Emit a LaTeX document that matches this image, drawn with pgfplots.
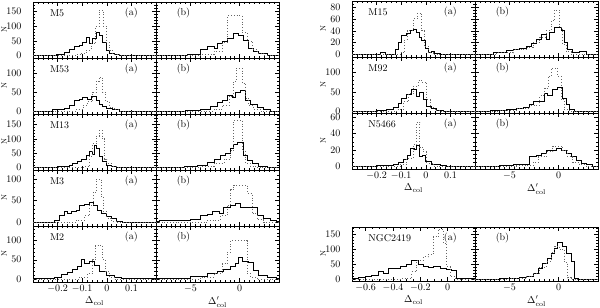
\documentclass[border=0pt]{standalone}
\usepackage{pgfplots}
\pgfplotsset{compat=1.18}
\pgfplotsset{
  panel/.style={scale only axis, width=123pt, height=56pt, anchor=south west,
    tick align=inside, axis line style={line width=0.6pt},
    every tick/.style={black, line width=0.5pt},
    major tick length=4pt, minor tick length=2pt,
    tick label style={font=\fontsize{10}{11}\selectfont},
    yticklabel style={xshift=-8pt}},
  pa/.style={xmin=-0.3, xmax=0.2, xtick={-0.2,-0.1,0,0.1}, minor xtick={-0.3,-0.28,...,0.2}},
  pb/.style={xmin=-8.5, xmax=4, xtick={-5,0}, minor xtick={-8.5,-8,...,4}, yticklabels={}},
  nx/.style={xticklabels={}},
  y50/.style={ytick={0,50,100,150}, minor ytick={0,10,...,190}},
  y20/.style={ytick={0,20,40,60,80}, minor ytick={0,5,...,90}},
  sol/.style={const plot, black, line width=0.9pt},
  dot/.style={const plot, black!60, dotted, line width=0.8pt},
  ylab/.style={ylabel={N}, ylabel style={at={(axis description cs:-0.235,0.5)}, anchor=center, font=\fontsize{7.5}{8}\selectfont}},
  xla/.style={xlabel={$\Delta_{\rm col}$}, xlabel style={yshift=3pt}},
  xlb/.style={xlabel={$\Delta'_{\rm col}$}, xlabel style={yshift=3pt}},
}
\begin{document}
\begin{tikzpicture}
\useasboundingbox (0,0) rectangle (600pt,308pt);
% ================= LEFT BLOCK =================
% M5
\begin{axis}[panel, pa, nx, y50, ylab, at={(33pt,250pt)}, ymin=-8, ymax=182]
\addplot[sol] coordinates {(-0.3,0)(-0.205,5)(-0.172,12)(-0.151,20)(-0.131,30)(-0.111,35)(-0.097,45)(-0.081,62)(-0.070,42)(-0.057,58)(-0.043,78)(-0.030,70)(-0.016,45)(-0.003,18)(0.011,9)(0.031,3)(0.051,0)(0.2,0)};
\addplot[dot] coordinates {(-0.3,0)(-0.124,3)(-0.104,8)(-0.084,18)(-0.064,40)(-0.046,100)(-0.032,155)(-0.014,100)(-0.003,45)(0.011,18)(0.024,5)(0.051,0)(0.2,0)};
\node[anchor=west] at (rel axis cs:0.11,0.8) {M5};
\node[anchor=east] at (rel axis cs:0.88,0.8) {(a)};
\end{axis}
\begin{axis}[panel, pb, nx, y50, at={(156pt,250pt)}, ymin=-8, ymax=182]
\addplot[sol] coordinates {(-8.5,0)(-8.33,2)(-5.3,5)(-3.95,20)(-3.28,32)(-2.61,23)(-2.27,40)(-1.77,49)(-1.26,60)(-0.59,75)(-0.08,70)(0.42,53)(0.93,24)(1.43,15)(1.94,6)(2.78,2)(3.96,0)(4,0)};
\addplot[dot] coordinates {(-8.5,0)(-3.95,5)(-2.61,15)(-1.77,45)(-1.26,135)(0.25,78)(0.76,50)(1.26,20)(1.77,8)(2.44,0)(4,0)};
\node[anchor=west] at (rel axis cs:0.14,0.8) {(b)};
\end{axis}
% M53
\begin{axis}[panel, pa, nx, y50, ylab, at={(33pt,194pt)}, ymin=-8, ymax=142]
\addplot[sol] coordinates {(-0.3,0)(-0.219,3)(-0.172,8)(-0.151,15)(-0.131,27)(-0.111,32)(-0.097,36)(-0.077,30)(-0.064,38)(-0.043,27)(-0.030,18)(-0.016,13)(-0.003,7)(0.024,3)(0.051,0)(0.2,0)};
\addplot[dot] coordinates {(-0.3,0)(-0.124,5)(-0.097,15)(-0.077,25)(-0.057,50)(-0.043,80)(-0.032,90)(-0.016,50)(-0.005,25)(0.011,10)(0.031,3)(0.051,0)(0.2,0)};
\node[anchor=west] at (rel axis cs:0.11,0.8) {M53};
\node[anchor=east] at (rel axis cs:0.88,0.8) {(a)};
\end{axis}
\begin{axis}[panel, pb, nx, y50, at={(156pt,194pt)}, ymin=-8, ymax=142]
\addplot[sol] coordinates {(-8.5,0)(-5.5,1)(-3.95,3)(-2.94,11)(-2.27,22)(-1.77,27)(-1.26,42)(-0.76,36)(-0.42,49)(0.09,55)(0.59,27)(1.10,18)(1.77,9)(2.44,3)(3.12,0)(4,0)};
\addplot[dot] coordinates {(-8.5,0)(-2.61,5)(-1.77,15)(-1.09,40)(-0.59,80)(-0.32,115)(0.25,75)(0.59,35)(0.93,15)(1.43,5)(2.11,0)(4,0)};
\node[anchor=west] at (rel axis cs:0.14,0.8) {(b)};
\end{axis}
% M13
\begin{axis}[panel, pa, nx, y50, ylab, at={(33pt,138pt)}, ymin=-8, ymax=186]
\addplot[sol] coordinates {(-0.3,0)(-0.199,3)(-0.151,8)(-0.138,15)(-0.118,20)(-0.104,30)(-0.084,43)(-0.070,55)(-0.057,45)(-0.050,78)(-0.041,68)(-0.030,40)(-0.016,20)(-0.003,8)(0.018,3)(0.038,0)(0.2,0)};
\addplot[dot] coordinates {(-0.3,0)(-0.091,5)(-0.070,40)(-0.057,83)(-0.043,110)(-0.030,130)(-0.019,100)(-0.009,30)(0.000,15)(0.018,5)(0.038,0)(0.2,0)};
\node[anchor=west] at (rel axis cs:0.11,0.8) {M13};
\node[anchor=east] at (rel axis cs:0.88,0.8) {(a)};
\end{axis}
\begin{axis}[panel, pb, nx, y50, at={(156pt,138pt)}, ymin=-8, ymax=186]
\addplot[sol] coordinates {(-8.5,0)(-5.64,3)(-4.29,8)(-3.28,17)(-2.61,29)(-1.93,41)(-1.43,49)(-0.92,66)(-0.59,80)(-0.18,88)(0.36,43)(0.76,25)(1.26,14)(1.94,6)(2.78,0)(4,0)};
\addplot[dot] coordinates {(-8.5,0)(-3.95,5)(-2.61,15)(-1.60,30)(-0.92,60)(-0.59,165)(0.25,60)(0.59,15)(1.10,5)(1.77,0)(4,0)};
\node[anchor=west] at (rel axis cs:0.14,0.8) {(b)};
\end{axis}
% M3
\begin{axis}[panel, pa, nx, y50, ylab, at={(33pt,82pt)}, ymin=-8.5, ymax=121]
\addplot[sol] coordinates {(-0.3,0)(-0.212,5)(-0.192,17)(-0.172,25)(-0.158,21)(-0.145,26)(-0.124,28)(-0.111,38)(-0.091,42)(-0.070,46)(-0.054,38)(-0.036,28)(-0.023,21)(-0.003,13)(0.018,8)(0.038,2)(0.065,0)(0.2,0)};
\addplot[dot] coordinates {(-0.3,0)(-0.124,5)(-0.091,15)(-0.070,40)(-0.054,70)(-0.043,100)(-0.023,60)(-0.014,25)(0.000,10)(0.018,3)(0.038,0)(0.2,0)};
\node[anchor=west] at (rel axis cs:0.11,0.8) {M3};
\node[anchor=east] at (rel axis cs:0.88,0.8) {(a)};
\end{axis}
\begin{axis}[panel, pb, nx, y50, at={(156pt,82pt)}, ymin=-8.5, ymax=121]
\addplot[sol] coordinates {(-8.5,2)(-8.16,4)(-4.96,6)(-3.95,15)(-3.28,19)(-2.78,26)(-2.10,21)(-1.60,35)(-0.92,38)(-0.42,44)(0.09,35)(0.93,34)(1.77,17)(2.44,9)(3.12,5)(3.79,2)(4,2)};
\addplot[dot] coordinates {(-8.5,0)(-3.28,5)(-1.93,15)(-1.26,40)(-0.92,75)(-0.59,86)(0.76,67)(1.26,20)(1.77,6)(2.44,0)(4,0)};
\node[anchor=west] at (rel axis cs:0.14,0.8) {(b)};
\end{axis}
% M2
\begin{axis}[panel, pa, y50, ylab, xla, at={(33pt,26pt)}, ymin=-8, ymax=138]
\addplot[sol] coordinates {(-0.3,0)(-0.212,5)(-0.185,12)(-0.158,18)(-0.138,25)(-0.118,32)(-0.104,50)(-0.091,40)(-0.070,45)(-0.050,35)(-0.030,20)(-0.003,10)(0.031,5)(0.058,0)(0.2,0)};
\addplot[dot] coordinates {(-0.3,0)(-0.111,5)(-0.077,15)(-0.057,50)(-0.046,87)(-0.016,50)(-0.005,20)(0.011,5)(0.031,0)(0.2,0)};
\node[anchor=west] at (rel axis cs:0.11,0.8) {M2};
\node[anchor=east] at (rel axis cs:0.88,0.8) {(a)};
\end{axis}
\begin{axis}[panel, pb, y50, xlb, at={(156pt,26pt)}, ymin=-8, ymax=138]
\addplot[sol] coordinates {(-8.5,2)(-4.96,6)(-3.28,13)(-2.27,19)(-1.60,25)(-0.92,32)(-0.42,41)(-0.08,56)(0.25,45)(0.93,42)(1.43,21)(1.94,9)(2.78,3)(3.79,0)(4,0)};
\addplot[dot] coordinates {(-8.5,0)(-3.95,5)(-2.61,15)(-1.77,40)(-1.26,70)(-0.92,100)(0.76,15)(1.10,5)(1.77,0)(4,0)};
\node[anchor=west] at (rel axis cs:0.14,0.8) {(b)};
\end{axis}
% ================= RIGHT BLOCK =================
% M15
\begin{axis}[panel, pa, nx, y20, ylab, at={(352pt,251pt)}, ymin=-4, ymax=90]
\addplot[sol] coordinates {(-0.3,0)(-0.186,3)(-0.166,0)(-0.125,8)(-0.112,20)(-0.098,33)(-0.078,36)(-0.064,40)(-0.051,43)(-0.037,37)(-0.024,29)(-0.017,23)(-0.003,11)(0.010,3)(0.024,6)(0.037,2)(0.058,0)(0.2,0)};
\addplot[dot] coordinates {(-0.3,0)(-0.105,3)(-0.085,26)(-0.075,40)(-0.051,60)(-0.034,70)(-0.017,40)(-0.007,14)(0.010,3)(0.031,0)(0.2,0)};
\node[anchor=west] at (rel axis cs:0.105,0.8) {M15};
\node[anchor=east] at (rel axis cs:0.88,0.8) {(a)};
\end{axis}
\begin{axis}[panel, pb, nx, y20, at={(475pt,251pt)}, ymin=-4, ymax=90]
\addplot[sol] coordinates {(-8.5,0)(-6.65,3)(-5.30,7)(-4.63,9)(-3.95,11)(-3.28,14)(-2.78,19)(-2.27,26)(-1.77,34)(-1.26,26)(-0.92,37)(-0.42,46)(0.25,41)(0.59,20)(0.93,9)(1.43,3)(2.11,5)(2.78,1)(3.12,0)(4,0)};
\addplot[dot] coordinates {(-8.5,0)(-6.31,3)(-4.63,8)(-3.28,12)(-2.61,20)(-1.93,29)(-1.26,40)(-0.76,57)(-0.42,75)(0.09,46)(0.42,17)(0.76,5)(1.26,0)(4,0)};
\node[anchor=west] at (rel axis cs:0.14,0.8) {(b)};
\end{axis}
% M92
\begin{axis}[panel, pa, nx, y50, ylab, at={(352pt,195pt)}, ymin=-4, ymax=139]
\addplot[sol] coordinates {(-0.3,0)(-0.200,2)(-0.159,5)(-0.132,10)(-0.112,21)(-0.098,34)(-0.078,44)(-0.057,55)(-0.037,38)(-0.026,49)(-0.010,30)(0.004,13)(0.024,7)(0.044,3)(0.071,0)(0.2,0)};
\addplot[dot] coordinates {(-0.3,0)(-0.118,5)(-0.091,25)(-0.071,45)(-0.051,65)(-0.030,80)(-0.017,75)(0.004,30)(0.017,10)(0.037,3)(0.058,0)(0.2,0)};
\node[anchor=west] at (rel axis cs:0.105,0.8) {M92};
\node[anchor=east] at (rel axis cs:0.88,0.8) {(a)};
\end{axis}
\begin{axis}[panel, pb, nx, y50, at={(475pt,195pt)}, ymin=-4, ymax=139]
\addplot[sol] coordinates {(-8.5,0)(-6.98,2)(-5.30,4)(-4.29,7)(-3.62,11)(-2.94,17)(-2.61,25)(-1.43,45)(-1.09,41)(-0.59,55)(-0.08,61)(0.42,34)(0.76,17)(1.10,4)(1.60,0)(4,0)};
\addplot[dot] coordinates {(-8.5,0)(-5.97,3)(-4.29,8)(-2.94,15)(-1.93,40)(-1.43,60)(-1.09,90)(-0.76,110)(-0.08,90)(0.25,30)(0.59,5)(1.10,0)(4,0)};
\node[anchor=west] at (rel axis cs:0.14,0.8) {(b)};
\end{axis}
% N5466
\begin{axis}[panel, pa, y20, ylab, xla, at={(352pt,139pt)}, ymin=-3, ymax=65]
\addplot[sol] coordinates {(-0.3,0)(-0.200,1)(-0.132,2)(-0.112,5)(-0.091,9)(-0.075,14)(-0.064,22)(-0.048,21)(-0.037,26)(-0.024,12)(-0.013,14)(0.000,6)(0.024,3)(0.058,1)(0.085,0)(0.2,0)};
\addplot[dot] coordinates {(-0.3,0)(-0.105,3)(-0.078,10)(-0.051,27)(-0.037,54)(-0.024,23)(-0.010,18)(0.004,4)(0.031,0)(0.2,0)};
\node[anchor=west] at (rel axis cs:0.105,0.8) {N5466};
\node[anchor=east] at (rel axis cs:0.88,0.8) {(a)};
\end{axis}
\begin{axis}[panel, pb, y20, xlb, at={(475pt,139pt)}, ymin=-3, ymax=65]
\addplot[sol] coordinates {(-8.5,0)(-5.97,1)(-4.63,2)(-3.28,3)(-2.94,12)(-2.27,14)(-1.77,16)(-1.26,19)(-0.76,20)(-0.25,22)(0.25,20)(0.76,16)(1.26,12)(1.77,7)(2.27,4)(2.78,2)(3.45,0)(4,0)};
\addplot[dot] coordinates {(-8.5,0)(-4.29,1)(-2.61,5)(-2.10,12)(-1.26,18)(-0.59,25)(0.42,20)(0.93,12)(1.43,5)(2.11,2)(2.78,0)(4,0)};
\node[anchor=west] at (rel axis cs:0.14,0.8) {(b)};
\end{axis}
% NGC2419
\begin{axis}[panel, height=54pt, xmin=-0.7, xmax=0.2, xtick={-0.6,-0.4,-0.2,0}, minor xtick={-0.7,-0.65,...,0.2}, y50, ylab, xla, at={(352pt,27pt)}, ymin=-6, ymax=175]
\addplot[sol] coordinates {(-0.7,2)(-0.654,6)(-0.605,9)(-0.556,12)(-0.507,25)(-0.471,18)(-0.434,37)(-0.349,42)(-0.300,50)(-0.263,62)(-0.215,51)(-0.178,44)(-0.141,39)(-0.105,44)(-0.056,37)(-0.007,33)(0.029,29)(0.066,3)(0.2,3)};
\addplot[dot] coordinates {(-0.7,0)(-0.349,2)(-0.263,25)(-0.227,64)(-0.178,75)(-0.141,83)(-0.105,142)(-0.068,167)(-0.032,120)(-0.007,42)(0.017,9)(0.054,0)(0.2,0)};
\node[anchor=west] at (rel axis cs:0.105,0.8) {NGC2419};
\node[anchor=east] at (rel axis cs:0.88,0.8) {(a)};
\end{axis}
\begin{axis}[panel, height=54pt, pb, y50, xlb, at={(475pt,27pt)}, ymin=-6, ymax=175]
\addplot[sol] coordinates {(-8.5,0)(-5.97,2)(-3.95,5)(-3.28,10)(-2.61,20)(-2.10,37)(-1.60,53)(-1.09,70)(-0.76,87)(-0.42,103)(-0.08,122)(0.42,109)(0.76,87)(1.26,59)(1.60,3)(2.0,0)(4,0)};
\addplot[dot] coordinates {(-8.5,0)(-5.30,3)(-3.28,8)(-2.61,20)(-1.93,40)(-1.26,60)(-0.76,90)(-0.42,110)(0.09,100)(0.59,55)(0.93,5)(1.26,0)(4,0)};
\node[anchor=west] at (rel axis cs:0.14,0.8) {(b)};
\end{axis}
\end{tikzpicture}
\end{document}
